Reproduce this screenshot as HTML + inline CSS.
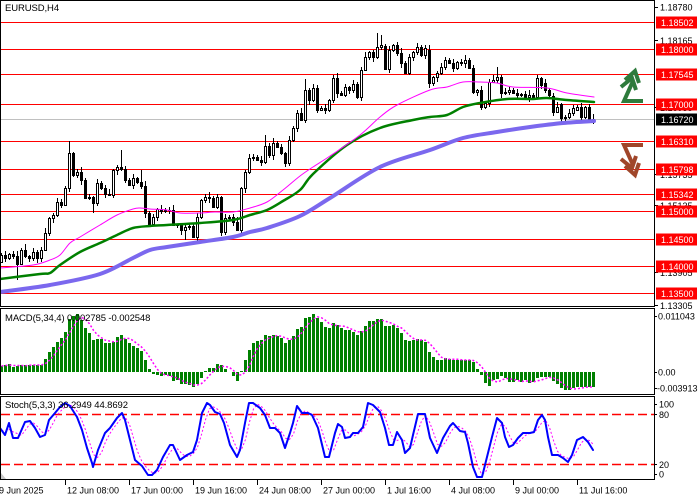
<!DOCTYPE html>
<html><head><meta charset="utf-8">
<style>
html,body{margin:0;padding:0;background:#fff;overflow:hidden;}
svg{display:block;}
text{font-family:"Liberation Sans",Arial,sans-serif;font-size:9px;fill:#000;}
.lb{font-size:9.5px;}
.bx{fill:#fff;}
</style></head>
<body>
<svg id="c" width="700" height="500" viewBox="0 0 700 500" xmlns="http://www.w3.org/2000/svg">
<defs>
<clipPath id="cm"><rect x="1" y="1" width="653" height="305"/></clipPath>
<clipPath id="cd"><rect x="1" y="309" width="653" height="85"/></clipPath>
<clipPath id="cs"><rect x="1" y="397" width="653" height="82"/></clipPath>
</defs>
<rect x="0" y="0" width="700" height="500" fill="#fff"/>
<g shape-rendering="crispEdges" stroke="#ff0000" stroke-width="1">
<line x1="1" x2="654" y1="22.5" y2="22.5"/>
<line x1="1" x2="654" y1="49.5" y2="49.5"/>
<line x1="1" x2="654" y1="74.5" y2="74.5"/>
<line x1="1" x2="654" y1="104.5" y2="104.5"/>
<line x1="1" x2="654" y1="141.5" y2="141.5"/>
<line x1="1" x2="654" y1="169.5" y2="169.5"/>
<line x1="1" x2="654" y1="194.5" y2="194.5"/>
<line x1="1" x2="654" y1="211.5" y2="211.5"/>
<line x1="1" x2="654" y1="239.5" y2="239.5"/>
<line x1="1" x2="654" y1="266.5" y2="266.5"/>
<line x1="1" x2="654" y1="293.5" y2="293.5"/>
</g>
<line x1="1" x2="654" y1="119.5" y2="119.5" stroke="#c0c0c0" stroke-width="1" shape-rendering="crispEdges"/>
<g id="main" clip-path="url(#cm)"></g>
<g id="macd" clip-path="url(#cd)"></g>
<g id="stoch" clip-path="url(#cs)">
<line x1="1" x2="654" y1="414.5" y2="414.5" stroke="#ff0000" stroke-width="1.5" stroke-dasharray="9,4"/>
<line x1="1" x2="654" y1="464.5" y2="464.5" stroke="#ff0000" stroke-width="1.5" stroke-dasharray="9,4"/>
</g>
<g fill="none" stroke="#000" stroke-width="1" shape-rendering="crispEdges">
<rect x="0.5" y="0.5" width="654" height="306"/>
<rect x="0.5" y="308.5" width="654" height="86"/>
<rect x="0.5" y="396.5" width="654" height="83"/>
</g>
<polygon points="1,473 1,479 6,479" fill="#c8c8c8"/>
<text class="lb" x="5" y="11" letter-spacing="-0.1">EURUSD,H4</text>
<text class="lb" x="5" y="321" letter-spacing="-0.1">MACD(5,34,4) 0.002785 -0.002548</text>
<text class="lb" x="5" y="408" letter-spacing="-0.1">Stoch(5,3,3) 36.2949 44.8692</text>
<g stroke="#000" stroke-width="1" shape-rendering="crispEdges">
<line x1="654" x2="658" y1="7.5" y2="7.5"/>
<line x1="654" x2="658" y1="40.5" y2="40.5"/>
<line x1="654" x2="658" y1="107.5" y2="107.5"/>
<line x1="654" x2="658" y1="174.5" y2="174.5"/>
<line x1="654" x2="658" y1="205.5" y2="205.5"/>
<line x1="654" x2="658" y1="272.5" y2="272.5"/>
<line x1="654" x2="658" y1="305.5" y2="305.5"/>
<line x1="654" x2="657" y1="316.5" y2="316.5"/>
<line x1="654" x2="657" y1="372.5" y2="372.5"/>
<line x1="654" x2="657" y1="388.5" y2="388.5"/>
<line x1="654" x2="657" y1="404.5" y2="404.5"/>
<line x1="654" x2="657" y1="414.5" y2="414.5"/>
<line x1="654" x2="657" y1="464.5" y2="464.5"/>
<line x1="654" x2="657" y1="474.5" y2="474.5"/>
<line x1="65.5" x2="65.5" y1="480" y2="485"/>
<line x1="129.5" x2="129.5" y1="480" y2="485"/>
<line x1="193.5" x2="193.5" y1="480" y2="485"/>
<line x1="257.5" x2="257.5" y1="480" y2="485"/>
<line x1="321.5" x2="321.5" y1="480" y2="485"/>
<line x1="385.5" x2="385.5" y1="480" y2="485"/>
<line x1="449.5" x2="449.5" y1="480" y2="485"/>
<line x1="513.5" x2="513.5" y1="480" y2="485"/>
<line x1="577.5" x2="577.5" y1="480" y2="485"/>
</g>
<text x="660" y="10.5">1.18780</text>
<text x="660" y="44">1.18165</text>
<text x="660" y="111">1.16935</text>
<text x="660" y="178">1.15735</text>
<text x="660" y="209">1.15135</text>
<text x="660" y="276">1.13905</text>
<text x="660" y="309">1.13305</text>
<g fill="#ff0000">
<rect x="656" y="16.5" width="41" height="12"/>
<rect x="656" y="43.5" width="41" height="12"/>
<rect x="656" y="68.5" width="41" height="12"/>
<rect x="656" y="98.5" width="41" height="12"/>
<rect x="656" y="135.5" width="41" height="12"/>
<rect x="656" y="163.5" width="41" height="12"/>
<rect x="656" y="188.5" width="41" height="12"/>
<rect x="656" y="205.5" width="41" height="12"/>
<rect x="656" y="233.5" width="41" height="12"/>
<rect x="656" y="260.5" width="41" height="12"/>
<rect x="656" y="287.5" width="41" height="12"/>
</g>
<rect x="656" y="113.5" width="41" height="12" fill="#000"/>
<g>
<text class="bx" x="661" y="26">1.18502</text>
<text class="bx" x="661" y="53">1.18000</text>
<text class="bx" x="661" y="78">1.17545</text>
<text class="bx" x="661" y="108">1.17000</text>
<text class="bx" x="661" y="123">1.16720</text>
<text class="bx" x="661" y="145">1.16310</text>
<text class="bx" x="661" y="173">1.15798</text>
<text class="bx" x="661" y="198">1.15342</text>
<text class="bx" x="661" y="215">1.15000</text>
<text class="bx" x="661" y="243">1.14500</text>
<text class="bx" x="661" y="270">1.14000</text>
<text class="bx" x="661" y="297">1.13500</text>
</g>
<text x="658" y="319.5">0.011043</text>
<text x="658" y="375.5">0.00</text>
<text x="657" y="391.5">-0.003913</text>
<text x="659" y="407.5">100</text>
<text x="659" y="418">80</text>
<text x="659" y="468">20</text>
<text x="659" y="477.5">0</text>
<text x="-1" y="493.5">9 Jun 2025</text>
<text x="67" y="493.5">12 Jun 08:00</text>
<text x="131" y="493.5">17 Jun 00:00</text>
<text x="195" y="493.5">19 Jun 16:00</text>
<text x="259" y="493.5">24 Jun 08:00</text>
<text x="323" y="493.5">27 Jun 00:00</text>
<text x="387" y="493.5">1 Jul 16:00</text>
<text x="451" y="493.5">4 Jul 08:00</text>
<text x="515" y="493.5">9 Jul 00:00</text>
<text x="579" y="493.5">11 Jul 16:00</text>
<g fill="none" stroke="#2e7b3c" stroke-width="4" stroke-linejoin="miter" stroke-linecap="butt">
<path d="M643,101 L624,101 L633,81"/>
<path d="M621,87 L632,78 L636,90"/>
<path d="M625,80 L635,71 L639,83"/>
</g>
<g fill="none" stroke="#a0462a" stroke-width="4" stroke-linejoin="miter" stroke-linecap="butt" transform="matrix(1,0,0,-1,0,246)">
<path d="M643,101 L624,101 L633,81"/>
<path d="M621,87 L632,78 L636,90"/>
<path d="M625,80 L635,71 L639,83"/>
</g>
</svg>
<script>
(function(){
var NS='http://www.w3.org/2000/svg';
function el(tag,a,p){var e=document.createElementNS(NS,tag);for(var k in a)e.setAttribute(k,a[k]);p.appendChild(e);return e;}
var gm=document.getElementById('main'),gd=document.getElementById('macd'),gs=document.getElementById('stoch');
var C=[255,258,254,256,264,250,256,258,252,258,250,233,218,215,202,205,188,153,175,172,180,198,197,203,183,188,194,195,170,167,169,180,185,178,182,186,213,224,217,209,211,210,210,225,225,230,227,226,237,217,200,197,198,207,197,232,218,217,222,230,188,172,158,157,160,162,146,155,143,147,153,163,140,128,113,120,90,100,88,110,108,110,100,78,93,95,87,90,84,97,70,57,52,57,47,45,69,50,45,53,63,73,57,52,47,55,48,83,77,73,67,60,63,68,62,63,60,68,92,90,107,103,82,80,77,93,92,90,93,95,94,97,95,97,78,85,90,95,112,107,118,117,113,108,107,117,107,119,119];
var OO={0:262,96:46,107:50,136:83,138:96,140:104,144:110};
var W=[2,4,1,3,5,2,3,1,4,2,3,5,1,2,4,3];
var HO={17:141,30:150,35:170,66:135,76:79,94:33,95:35,124:67,6:244};
var LO={4:280,23:213,46:240,107:88,9:263,140:122,145:121,147:123};
function pl(pts,st,w,p,extra){var s=pts.map(function(q){return q[0]+','+q[1];}).join(' ');var a={points:s,fill:'none',stroke:st,'stroke-width':w,'stroke-linejoin':'round','stroke-linecap':'round'};if(extra)for(var k in extra)a[k]=extra[k];return el('polyline',a,p);}
function sm(pts,st,w,p){
 var d='M'+pts[0][0]+','+pts[0][1];
 for(var i=0;i<pts.length-1;i++){
  var p0=pts[i-1]||pts[i],p1=pts[i],p2=pts[i+1],p3=pts[i+2]||p2;
  var c1x=p1[0]+(p2[0]-p0[0])/6,c1y=p1[1]+(p2[1]-p0[1])/6;
  var c2x=p2[0]-(p3[0]-p1[0])/6,c2y=p2[1]-(p3[1]-p1[1])/6;
  d+=' C'+c1x.toFixed(2)+','+c1y.toFixed(2)+' '+c2x.toFixed(2)+','+c2y.toFixed(2)+' '+p2[0]+','+p2[1];
 }
 return el('path',{d:d,fill:'none',stroke:st,'stroke-width':w,'stroke-linecap':'round'},p);
}
for(var i=0;i<C.length;i++){
 var o=(OO[i]!==undefined)?OO[i]:C[i-1], c=C[i];
 var top=Math.min(o,c), bot=Math.max(o,c);
 var h=(HO[i]!==undefined)?HO[i]:top-W[i%16];
 var l=(LO[i]!==undefined)?LO[i]:bot+W[(i+7)%16];
 var x=4*i;
 el('line',{x1:x+1.5,x2:x+1.5,y1:h,y2:l,stroke:'#000','stroke-width':1,'shape-rendering':'crispEdges'},gm);
 if(bot-top<1){el('line',{x1:x,x2:x+3,y1:top+0.5,y2:top+0.5,stroke:'#000','stroke-width':1,'shape-rendering':'crispEdges'},gm);}
 else{el('rect',{x:x+0.5,y:top+0.5,width:2,height:bot-top,fill:(c<o?'#fff':'#000'),stroke:'#000','stroke-width':1,'shape-rendering':'crispEdges'},gm);}
}
sm([[0,292],[50,285],[100,274],[133,258],[150,250],[167,247],[200,242],[233,237],[250,232],[267,228],[300,216],[330,198],[380,167],[430,150],[463,138],[497,132],[530,127],[563,123],[594,121]],'#7b68ee',4,gm);
sm([[0,279],[40,274],[50,273],[60,265],[80,252],[100,243],[117,235],[133,228],[150,226],[167,225],[200,223],[233,220],[250,215],[267,210],[283,201],[300,190],[313,174],[347,145],[380,128],[413,120],[430,117],[447,115],[463,107],[480,103],[507,99],[533,99],[547,98],[567,100],[594,102]],'#008000',2.5,gm);
sm([[0,268],[33,265],[50,260],[60,255],[70,243],[80,237],[100,225],[117,215],[133,209],[140,208],[150,209],[167,210],[180,213],[200,213],[215,212],[233,212],[250,208],[267,202],[283,190],[300,176],[313,167],[330,156],[360,135],[380,117],[397,105],[430,90],[447,87],[463,82],[480,82],[497,83],[513,87],[547,88],[567,93],[594,97]],'#ff00ff',1,gm);
var M=[366,365,364,367,366,365,365,365,365,365,365,359,352,347,342,338,332,319,316,314,320,328,333,340,339,339,343,343,342,337,335,339,343,346,348,351,360,369,374,375,376,375,376,381,380,384,384,385,387,384,378,371,368,368,364,365,369,372,376,381,371,360,350,343,341,340,335,336,335,336,338,343,340,336,329,327,318,317,314,318,322,327,328,323,325,328,330,330,332,335,331,326,321,321,319,319,326,326,325,328,333,340,341,340,339,340,342,352,357,360,360,358,359,360,360,360,360,360,362,369,375,383,386,380,379,376,378,382,382,380,382,380,383,382,378,377,377,377,381,384,388,390,390,388,387,387,387,387,387];
var B=372;
for(var i=0;i<M.length;i++){var t=M[i];if(Math.abs(t-B)<0.5)continue;
 if(t<B)el('rect',{x:4*i,y:t,width:3,height:B-t,fill:'#008000','shape-rendering':'crispEdges'},gd);
 else el('rect',{x:4*i,y:B,width:3,height:t-B,fill:'#008000','shape-rendering':'crispEdges'},gd);}
var sp=[];for(var i=0;i<M.length;i++){var s=0,n=0;for(var j=Math.max(0,i-3);j<=i;j++){s+=M[j];n++;}sp.push([4*i+1.5,(s/n).toFixed(1)]);}
pl(sp,'#ff00ff',1.5,gd,{'stroke-dasharray':'2,2','stroke-linecap':'butt'});
var K=[[0,428],[5,435],[9,423],[13,438],[18,438],[25,422],[30,421],[35,428],[40,437],[45,435],[49,420],[55,413],[60,407],[65,403],[70,406],[77,417],[82,430],[87,448],[92,463],[93,467],[98,450],[105,433],[110,428],[117,418],[122,413],[125,420],[130,440],[135,460],[142,466],[148,475],[152,475],[157,470],[163,457],[170,445],[173,445],[180,460],[187,455],[193,452],[197,440],[202,413],[207,403],[210,405],[215,412],[220,414],[224,423],[230,445],[237,457],[240,450],[245,423],[249,403],[253,403],[260,408],[265,415],[270,428],[275,428],[280,433],[285,448],[290,433],[293,423],[297,406],[302,413],[308,413],[312,415],[318,428],[325,457],[329,457],[335,433],[338,424],[342,427],[345,438],[350,437],[353,433],[358,433],[363,427],[368,403],[373,405],[380,412],[385,428],[389,445],[393,445],[397,432],[402,440],[405,453],[410,448],[413,435],[418,414],[425,414],[430,438],[437,453],[443,438],[450,426],[453,423],[460,431],[465,432],[468,443],[473,467],[477,477],[482,477],[487,457],[492,437],[497,418],[502,423],[505,437],[509,447],[513,445],[518,438],[523,433],[530,433],[534,432],[538,420],[542,415],[545,420],[548,437],[552,455],[558,455],[563,458],[568,462],[572,455],[577,440],[583,437],[588,442],[593,450]];
function interp(x){if(x<=K[0][0])return K[0][1];for(var j=1;j<K.length;j++){if(x<=K[j][0]){var a=K[j-1],b=K[j];return a[1]+(b[1]-a[1])*(x-a[0])/(b[0]-a[0]);}}return K[K.length-1][1];}
var kv=[];for(var i=0;i<149;i++)kv.push(interp(4*i+1.5));
var dp=[];for(var i=0;i<149;i++){var s=0,n=0;for(var j=Math.max(0,i-2);j<=i;j++){s+=kv[j];n++;}dp.push([4*i+1.5,(s/n).toFixed(1)]);}
pl(dp,'#ff00ff',1,gs,{'stroke-dasharray':'2,2','stroke-linecap':'butt'});
pl(K,'#0000ff',2,gs);
})();
</script>
</body></html>
